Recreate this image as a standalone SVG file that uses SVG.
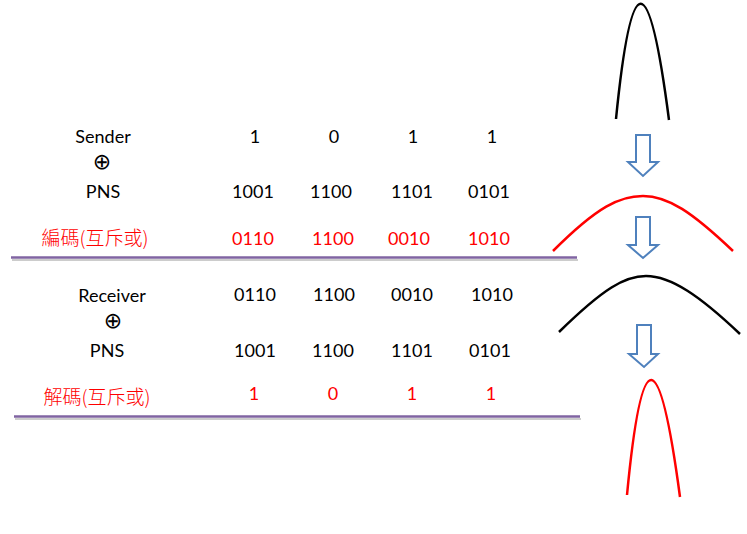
<svg xmlns="http://www.w3.org/2000/svg" width="747" height="534" viewBox="0 0 747 534">
<style>
.t{font-family:Lato,"Liberation Sans",sans-serif;font-size:18px;fill:#000;text-anchor:middle}
.r{fill:#ff0000}
.cjk{font-family:"Noto Sans CJK TC","Noto Sans CJK SC",sans-serif;font-size:19px;fill:#ff0000;text-anchor:middle;font-weight:300}
.x{font-family:"DejaVu Sans",sans-serif;font-size:22px;text-anchor:middle}
.sep{stroke:#8064A2;stroke-width:2.5}
.sh{stroke:#cccccc;stroke-width:2}
.arr{fill:#fff;stroke:#4F81BD;stroke-width:2}
.cv{fill:none;stroke-width:2.5}
</style>
<rect width="747" height="534" fill="#fff"/>
<g id="sender-block">
<text class="t" x="103" y="143">Sender</text>
<text class="x" x="102" y="169">⊕</text>
<text class="t" x="103" y="198">PNS</text>
<text class="cjk" x="95" y="245">編碼(互斥或)</text>
<text class="t" x="255" y="143">1</text>
<text class="t" x="334" y="143">0</text>
<text class="t" x="413" y="143">1</text>
<text class="t" x="492" y="143">1</text>
<text class="t" x="253" y="198">1001</text>
<text class="t" x="331" y="198">1100</text>
<text class="t" x="412" y="198">1101</text>
<text class="t" x="489" y="198">0101</text>
<text class="t r" x="253" y="245">0110</text>
<text class="t r" x="333" y="245">1100</text>
<text class="t r" x="409" y="245">0010</text>
<text class="t r" x="489" y="245">1010</text>
</g>
<g id="receiver-block">
<text class="t" x="112" y="302">Receiver</text>
<text class="x" x="113" y="328">⊕</text>
<text class="t" x="107" y="357">PNS</text>
<text class="cjk" x="97" y="404">解碼(互斥或)</text>
<text class="t" x="255" y="301">0110</text>
<text class="t" x="334" y="301">1100</text>
<text class="t" x="412" y="301">0010</text>
<text class="t" x="492" y="301">1010</text>
<text class="t" x="255" y="357">1001</text>
<text class="t" x="333" y="357">1100</text>
<text class="t" x="412" y="357">1101</text>
<text class="t" x="490" y="357">0101</text>
<text class="t r" x="254" y="400">1</text>
<text class="t r" x="333" y="400">0</text>
<text class="t r" x="412" y="400">1</text>
<text class="t r" x="491" y="400">1</text>
</g>
<g id="separators">
<line class="sh" x1="12" y1="260" x2="578" y2="260"/>
<line class="sep" x1="11" y1="257.5" x2="577" y2="257.5"/>
<line class="sh" x1="15" y1="419" x2="581" y2="419"/>
<line class="sep" x1="14" y1="416.5" x2="580" y2="416.5"/>
</g>
<g id="curves">
<path class="cv" stroke="#000" d="M616,119 Q639,-112 669,120"/>
<path class="cv" stroke="#ff0000" d="M553,251 C598,206 620,196 643,196 C668,196 692,212 733,251"/>
<path class="cv" stroke="#000" d="M559,332 C604,288 625,276 646,276 C671,276 700,296 740,334"/>
<path class="cv" stroke="#ff0000" d="M627,495 Q649,264 680,497"/>
</g>
<g id="arrows">
<path class="arr" d="M636,135 H650 V162 H658 L643,176 L628,162 H636 Z"/>
<path class="arr" d="M636,217 H650 V245 H658 L643,258 L628,245 H636 Z"/>
<path class="arr" d="M637,325 H651 V354 H658 L644,367 L629,354 H637 Z"/>
</g>
</svg>
